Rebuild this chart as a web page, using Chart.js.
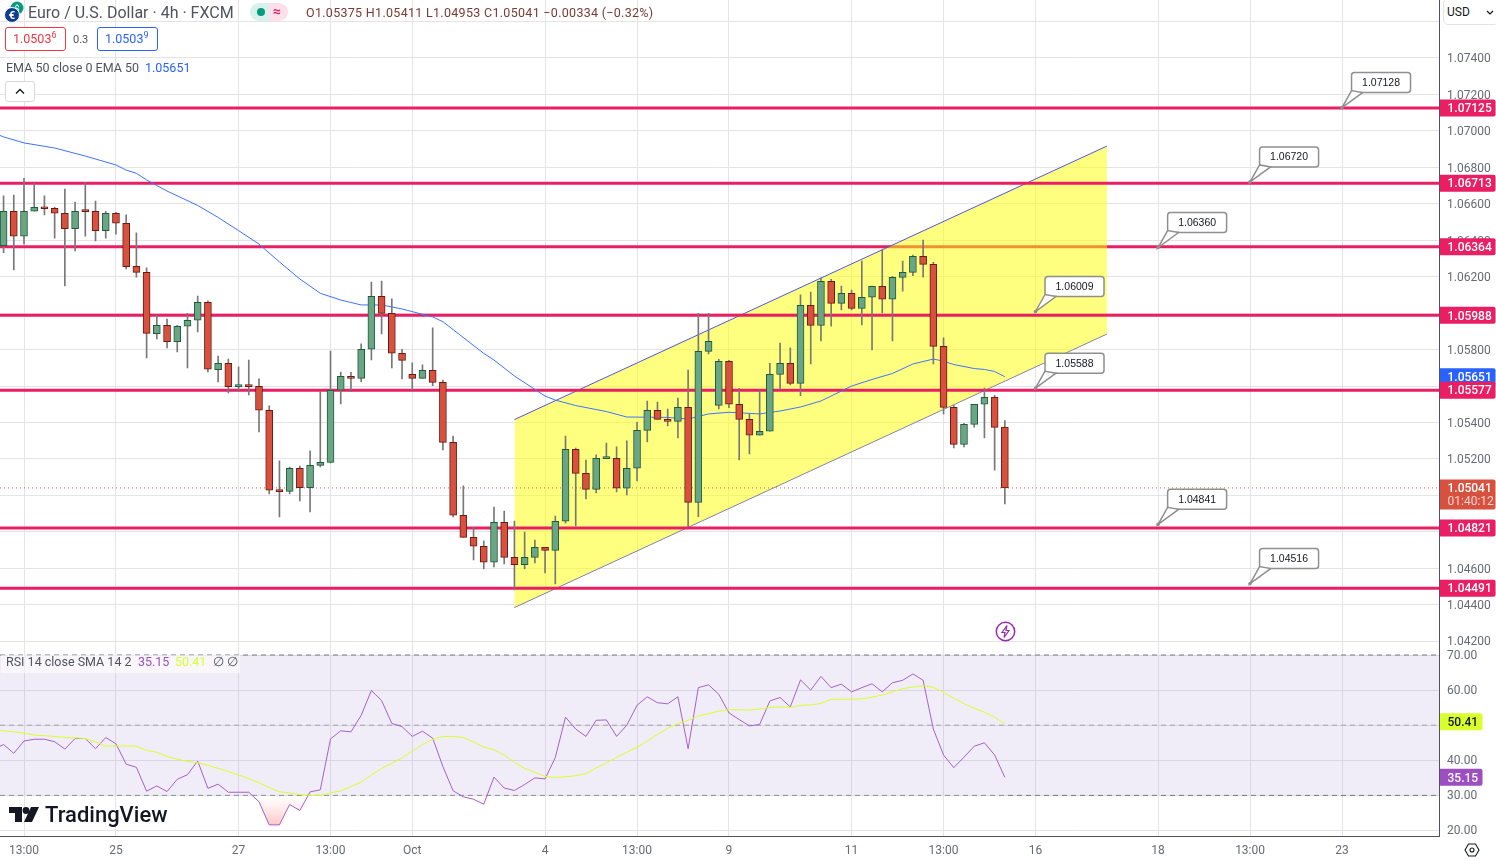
<!DOCTYPE html>
<html>
<head>
<meta charset="utf-8">
<title>EUR/USD 4h</title>
<script src="https://cdn.jsdelivr.net/npm/chart.js@4"></script>
<style>
  html, body { margin: 0; padding: 0; background: #fff; width: 1496px; height: 860px; overflow: hidden; }
  body { font-family: Roboto, sans-serif; position: relative; }
  canvas { position: absolute; left: 0; display: block; }
  #priceCanvas { top: 0; }
  #rsiCanvas { top: 645px; }
  .t { position: absolute; white-space: nowrap; line-height: 1; }
  .box { position: absolute; box-sizing: border-box; background: #fff; border-radius: 3px; }
</style>
</head>
<body>
<canvas id="priceCanvas" width="1496" height="645"></canvas>
<canvas id="rsiCanvas" width="1496" height="215"></canvas>

<!-- symbol header -->
<svg style="position:absolute;left:4px;top:1px" width="20" height="22" viewBox="0 0 20 22">
  <circle cx="13" cy="7" r="6.5" fill="#089981"/><text x="13" y="10.5" font-size="9" fill="#fff" text-anchor="middle" font-family="Roboto">$</text>
  <circle cx="8" cy="14" r="7.5" fill="#0f3d91" stroke="#fff"/><text x="8" y="18" font-size="11" font-weight="bold" fill="#fff" text-anchor="middle" font-family="Roboto">€</text>
</svg>
<span class="t" style="left:28px;top:5px;font-size:16px;color:#50535e">Euro / U.S. Dollar · 4h · FXCM</span>
<div style="position:absolute;left:250px;top:3px;width:19px;height:18px;background:#d9f1ec;border-radius:9px 0 0 9px"></div>
<div style="position:absolute;left:269px;top:3px;width:19px;height:18px;background:#fcdfe9;border-radius:0 9px 9px 0"></div>
<div style="position:absolute;left:257px;top:8px;width:8px;height:8px;background:#089981;border-radius:50%"></div>
<span class="t" style="left:273px;top:4px;font-size:14px;color:#e91e63;font-weight:bold">≈</span>
<span class="t" style="left:306px;top:7px;font-size:12.5px;color:#7b3a33;letter-spacing:.3px">O1.05375 H1.05411 L1.04953 C1.05041 −0.00334 (−0.32%)</span>

<!-- bid / ask -->
<div class="box" style="left:5px;top:27px;width:61px;height:24px;border:1px solid #f23645"></div>
<span class="t" style="left:13px;top:33px;font-size:12.5px;color:#f23645">1.0503<sup style="font-size:9px;line-height:0">6</sup></span>
<span class="t" style="left:73px;top:34px;font-size:11px;color:#50535e">0.3</span>
<div class="box" style="left:97px;top:27px;width:61px;height:24px;border:1px solid #2962ff"></div>
<span class="t" style="left:105px;top:33px;font-size:12.5px;color:#2962ff">1.0503<sup style="font-size:9px;line-height:0">9</sup></span>

<!-- EMA legend -->
<span class="t" style="left:6px;top:62px;font-size:12.5px;color:#50535e">EMA 50 close 0 EMA 50</span>
<span class="t" style="left:145px;top:62px;font-size:12.5px;color:#2962ff">1.05651</span>
<div class="box" style="left:5px;top:81px;width:30px;height:21px;border:1px solid #d6d8de"></div>
<svg style="position:absolute;left:15px;top:88px" width="10" height="7" viewBox="0 0 10 7"><path d="M1 5.5 L5 1.5 L9 5.5" fill="none" stroke="#131722" stroke-width="1.3"/></svg>

<!-- currency selector -->
<div class="box" style="left:1443px;top:-2px;width:56px;height:27px;border:1px solid #e0e3eb;border-radius:5px"></div>
<span class="t" style="left:1447px;top:6px;font-size:12px;color:#131722">USD</span>
<svg style="position:absolute;left:1486px;top:10px" width="8" height="6" viewBox="0 0 8 6"><path d="M1 1 L4 4 L7 1" fill="none" stroke="#131722" stroke-width="1.2"/></svg>

<!-- bolt marker -->
<svg style="position:absolute;left:995px;top:621px" width="21" height="21" viewBox="0 0 21 21">
  <circle cx="10.5" cy="10.5" r="9.2" fill="#fff" stroke="#9c27b0" stroke-width="1.5"/>
  <path d="M12 4.5 L7 11.5 H10 L9 16.5 L14 9.5 H11 Z" fill="none" stroke="#9c27b0" stroke-width="1.2"/>
</svg>

<!-- RSI legend -->
<div style="position:absolute;left:1px;top:655px;width:239px;height:18px;background:rgba(255,255,255,.55)"></div>
<span class="t" style="left:6px;top:655.5px;font-size:12.5px;color:#50535e">RSI 14 close SMA 14 2</span>
<span class="t" style="left:138px;top:655.5px;font-size:12.5px;color:#9c4fc0">35.15</span>
<span class="t" style="left:175px;top:655.5px;font-size:12.5px;color:#d9ff2c">50.41</span>
<span class="t" style="left:213px;top:655.5px;font-size:12.5px;color:#50535e">∅</span>
<span class="t" style="left:227px;top:655.5px;font-size:12.5px;color:#50535e">∅</span>

<!-- logo -->
<svg style="position:absolute;left:9px;top:806px" width="30" height="18" viewBox="0 0 30 18">
  <path d="M0 1 H13 V16 H6 V7 H0 Z" fill="#131722"/><circle cx="17" cy="4.5" r="3.4" fill="#131722"/><path d="M22 1 H30 L23 16 H15 Z" fill="#131722"/>
</svg>
<span class="t" style="left:45px;top:804px;font-size:22px;font-weight:500;color:#131722">TradingView</span>

<!-- settings -->
<svg style="position:absolute;left:1464px;top:842px" width="16" height="16" viewBox="0 0 16 16">
  <path d="M4.5 2 H11.5 L15 8 L11.5 14 H4.5 L1 8 Z" fill="none" stroke="#131722" stroke-width="1.1"/><circle cx="8" cy="8" r="2" fill="none" stroke="#131722" stroke-width="1.1"/>
</svg>

<script>
// candles, one per 4h bar
const open = [
  1.06370,1.06559,1.06422,1.06559,1.06581,1.06575,1.06548,1.06464,1.06559,1.06559,
  1.06453,1.06548,1.06493,1.06257,1.06224,1.05887,1.05933,1.05844,1.05928,1.05961,
  1.06059,1.05690,1.05725,1.05597,1.05604,1.05599,1.05467,1.05028,1.05022,1.05149,
  1.05043,1.05165,1.05181,1.05577,1.05653,1.05642,1.05802,1.06092,1.05999,1.05780,
  1.05664,1.05642,1.05686,1.05620,1.05291,1.04891,1.04770,1.04721,1.04633,1.04852,
  1.04660,1.04620,1.04660,1.04715,1.04698,1.04858,1.05253,1.05121,1.05033,1.05202,
  1.05203,1.05039,1.05149,1.05357,1.05467,1.05417,1.05406,1.05483,1.04962,1.05790,
  1.05494,1.05736,1.05500,1.05417,1.05330,1.05352,1.05664,1.05725,1.05615,1.06043,
  1.05933,1.06175,1.06054,1.06109,1.06026,1.06087,1.06147,1.06076,1.06196,1.06224,
  1.06312,1.06268,1.05818,1.05483,1.05280,1.05390,1.05500,1.05538,1.05375];
const high = [
  1.06643,1.06648,1.06740,1.06712,1.06643,1.06581,1.06681,1.06610,1.06718,1.06615,
  1.06559,1.06553,1.06539,1.06440,1.06248,1.05988,1.05968,1.05933,1.05999,1.06094,
  1.06067,1.05765,1.05748,1.05705,1.05743,1.05639,1.05491,1.05189,1.05156,1.05161,
  1.05244,1.05571,1.05792,1.05677,1.05675,1.05831,1.06171,1.06176,1.06078,1.05802,
  1.05727,1.05716,1.05919,1.05633,1.05326,1.05052,1.04825,1.04750,1.04936,1.04914,
  1.04859,1.04799,1.04755,1.04715,1.04887,1.05326,1.05260,1.05194,1.05222,1.05287,
  1.05266,1.05299,1.05401,1.05518,1.05512,1.05474,1.05534,1.05688,1.05999,1.05999,
  1.05747,1.05741,1.05587,1.05445,1.05578,1.05725,1.05836,1.05809,1.06100,1.06116,
  1.06193,1.06185,1.06149,1.06127,1.06286,1.06149,1.06350,1.06202,1.06286,1.06319,
  1.06401,1.06279,1.05864,1.05494,1.05395,1.05500,1.05589,1.05549,1.05411];
const low = [
  1.06332,1.06237,1.06379,1.06559,1.06539,1.06412,1.06149,1.06341,1.06423,1.06396,
  1.06412,1.06434,1.06242,1.06198,1.05754,1.05858,1.05809,1.05787,1.05699,1.05897,
  1.05677,1.05622,1.05562,1.05571,1.05551,1.05348,1.05008,1.04882,1.05008,1.04969,
  1.04909,1.05156,1.05178,1.05502,1.05569,1.05624,1.05743,1.05886,1.05699,1.05639,
  1.05578,1.05642,1.05602,1.05249,1.04882,1.04770,1.04646,1.04596,1.04607,1.04624,
  1.04481,1.04596,1.04629,1.04574,1.04514,1.04848,1.04832,1.04980,1.05013,1.05202,
  1.05019,1.05002,1.05079,1.05293,1.05417,1.05381,1.05315,1.04828,1.04883,1.05776,
  1.05474,1.05481,1.05194,1.05227,1.05330,1.05352,1.05582,1.05606,1.05547,1.05721,
  1.05847,1.05929,1.06017,1.06017,1.05935,1.05798,1.06001,1.05847,1.06121,1.06206,
  1.06198,1.05721,1.05447,1.05260,1.05266,1.05375,1.05315,1.05139,1.04953];
const close = [
  1.06559,1.06422,1.06559,1.06581,1.06573,1.06548,1.06464,1.06559,1.06557,1.06453,
  1.06548,1.06493,1.06255,1.06224,1.05889,1.05933,1.05844,1.05928,1.05961,1.06059,
  1.05692,1.05725,1.05597,1.05604,1.05597,1.05467,1.05028,1.05021,1.05149,1.05043,
  1.05165,1.05181,1.05577,1.05653,1.05642,1.05802,1.06092,1.05999,1.05780,1.05741,
  1.05642,1.05686,1.05620,1.05291,1.04891,1.04770,1.04721,1.04633,1.04852,1.04660,
  1.04620,1.04660,1.04715,1.04698,1.04858,1.05253,1.05121,1.05033,1.05203,1.05205,
  1.05039,1.05149,1.05357,1.05467,1.05417,1.05406,1.05483,1.04962,1.05790,1.05845,
  1.05736,1.05500,1.05417,1.05330,1.05352,1.05664,1.05725,1.05615,1.06043,1.05933,
  1.06175,1.06054,1.06109,1.06026,1.06087,1.06147,1.06076,1.06196,1.06224,1.06312,
  1.06268,1.05818,1.05483,1.05280,1.05390,1.05500,1.05538,1.05373,1.05041];

// EMA 50, read at these bars (the -1 bar runs off the left edge)
const emaBars = [-1,0,2,5,8,11,12,13,14,16,19,21,23,25,27,29,31,33,35,37,39,42,43,47,48,50,53,54,56,59,61,65,67,69,71,74,76,78,80,83,85,87,89,91,92,93,95,96,97,98];
const emaValues = [
  1.06990,1.06967,1.06934,1.06906,1.06862,1.06813,1.06785,1.06767,1.06731,1.06670,1.06591,
  1.06525,1.06453,1.06379,1.06281,1.06187,1.06109,1.06072,1.06045,1.06045,1.06023,
  1.05979,1.05953,1.05779,1.05743,1.05655,1.05545,1.05523,1.05493,1.05460,1.05430,
  1.05428,1.05419,1.05447,1.05456,1.05447,1.05463,1.05485,1.05518,1.05600,1.05636,
  1.05669,1.05721,1.05748,1.05737,1.05718,1.05696,1.05691,1.05680,1.05651];

// RSI and its SMA, first entry is the bar just off the left edge
const rsiValues = [
  43.1,44.5,42.0,45.5,46.0,46.0,45.3,43.2,46.2,46.2,43.3,
  46.5,44.7,38.9,38.0,31.2,32.7,31.1,34.6,35.9,39.8,
  32.0,33.2,30.9,30.9,30.9,28.2,21.6,21.6,27.4,25.7,
  31.0,31.6,46.1,48.4,48.1,52.8,59.9,57.0,50.5,49.6,
  46.8,48.3,46.3,38.2,31.3,29.6,28.9,27.5,35.2,32.1,
  31.4,33.1,35.0,34.7,40.8,52.3,48.9,46.8,51.4,51.5,
  46.8,50.0,55.7,58.1,56.4,56.1,58.1,43.3,60.7,61.5,
  58.8,53.5,51.6,49.8,50.2,56.9,57.9,55.2,62.9,60.0,
  63.9,60.7,61.7,59.5,60.7,61.8,59.5,62.1,62.8,64.6,
  62.8,48.9,41.5,37.9,40.9,44.0,45.0,41.5,35.15];
const smaValues = [
  48.6,48.4,48.1,47.8,47.2,47.0,46.8,46.5,46.4,46.2,45.3,
  44.0,44.1,44.1,44.0,42.8,42.3,41.1,40.3,39.7,39.3,
  38.6,37.7,36.8,35.8,34.8,33.6,32.3,31.0,30.7,30.2,
  30.0,30.0,30.7,31.3,32.5,33.8,35.8,37.7,39.1,40.7,
  42.6,44.5,46.0,46.8,46.8,46.5,45.2,43.8,43.0,41.5,
  39.4,37.7,36.6,35.4,35.1,35.3,35.6,36.2,37.8,39.3,
  40.8,42.3,43.7,45.5,47.4,49.1,50.5,51.4,52.6,53.3,
  54.0,54.4,54.4,54.3,54.6,55.1,55.2,55.1,55.6,55.8,
  56.2,57.4,57.4,57.4,57.5,58.0,58.6,59.5,60.4,60.9,
  61.2,60.8,59.4,57.7,56.1,54.8,53.7,52.3,50.41];

// horizontal levels
const levels = [1.07125, 1.06713, 1.05988, 1.05577, 1.04821, 1.04491];
const levelUnderChannel = 1.06364;
const lastPrice = 1.05041;
const lastEma = 1.05651;
const countdown = '01:40:12';

// rising channel, start and end bar
const channelBars = [50, 108];
const channelUpper = [1.05416, 1.06917];
const channelLower = [1.04385, 1.05886];

// callouts
const calloutBars = [131, 122, 113, 101, 101, 113, 122];
const calloutPrices = [1.07128, 1.06720, 1.06360, 1.06009, 1.05588, 1.04841, 1.04516];

// axes
const priceTicks = [1.042,1.044,1.046,1.048,1.05,1.052,1.054,1.056,1.058,1.06,1.062,1.064,1.066,1.068,1.07,1.072,1.074,1.076];
const rsiTicks = [20, 30, 40, 50, 60, 70];
const rsiDashed = [70, 50, 30];
const timeBars = [2, 11, 23, 32, 40, 53, 62, 71, 83, 92, 101, 113, 122, 131];
const timeLabels = ['13:00','25','27','13:00','Oct','4','13:00','9','11','13:00','16','18','13:00','23'];

const X_MIN = -0.349, X_MAX = 140.54;
const PINK = '#e91e63', GRID = '#e4e4e6', AXIS = '#50535e', TICK = '#666a75';
const UP = '#6aa584', UP_EDGE = '#1f5b3d', DOWN = '#d6523f', DOWN_EDGE = '#6b1a12', WICK = '#787878';
const FONT = 'Roboto, sans-serif';

const bars = open.map((_, i) => i);
const rsiBars = [-1, ...bars];
const flat = (value, order, color, width, dash) => ({
  type: 'line', order, data: [{x: X_MIN, y: value}, {x: X_MAX, y: value}],
  borderColor: color, borderWidth: width, borderDash: dash || [], pointRadius: 0, fill: false
});

// chart area has to fill the canvas, labels may hang over
function noPadding(s) {
  s.paddingLeft = s.paddingRight = s.paddingTop = s.paddingBottom = 0;
}

// right axis tag
function drawTag(chart, y, width, bg, fg, text, sub) {
  const ctx = chart.ctx, left = chart.chartArea.right + 0.5;
  const h = sub ? 30 : 17;
  const top = sub ? y - 8.5 : y - h / 2;
  ctx.fillStyle = bg;
  ctx.beginPath();
  ctx.roundRect(left, top, width, h, [0, 2, 2, 0]);
  ctx.fill();
  ctx.fillStyle = fg;
  ctx.font = '500 12px ' + FONT;
  ctx.textAlign = 'left';
  ctx.textBaseline = 'middle';
  ctx.fillText(text, left + 7.5, top + 9.7);
  if (sub) {
    ctx.font = '12px ' + FONT;
    ctx.fillStyle = 'rgba(255,255,255,.75)';
    ctx.fillText(sub, left + 7.5, top + 23);
  }
}

const priceAnnotations = {
  id: 'priceAnnotations',
  afterDraw(chart) {
    const ctx = chart.ctx, xs = chart.scales.x, ys = chart.scales.y;
    // callout boxes
    ctx.save();
    calloutPrices.forEach((price, i) => {
      const ax = xs.getPixelForValue(calloutBars[i]), ay = ys.getPixelForValue(price);
      const left = ax + 9.5, top = ay - 35, w = 59, h = 20;
      ctx.beginPath();
      ctx.roundRect(left, top, w, h, 3);
      ctx.fillStyle = '#fff';
      ctx.fill();
      ctx.strokeStyle = '#8f8f8f';
      ctx.lineWidth = 1.5;
      ctx.stroke();
      ctx.beginPath();
      ctx.moveTo(left, top + h - 2);
      ctx.lineTo(ax, ay);
      ctx.lineTo(left + 11, top + h);
      ctx.closePath();
      ctx.fillStyle = '#fff';
      ctx.fill();
      ctx.stroke();
      ctx.beginPath();
      ctx.arc(ax, ay, 1.8, 0, Math.PI * 2);
      ctx.fillStyle = '#8f8f8f';
      ctx.fill();
      ctx.fillStyle = '#131722';
      ctx.font = '10.5px "Liberation Sans", sans-serif';
      ctx.textAlign = 'center';
      ctx.textBaseline = 'middle';
      ctx.fillText(price.toFixed(5), left + w / 2, top + h / 2 + 0.5);
    });
    // axis tags
    drawTag(chart, ys.getPixelForValue(lastEma), 55.5, '#2962ff', '#fff', lastEma.toFixed(5));
    [...levels, levelUnderChannel].forEach(v => drawTag(chart, ys.getPixelForValue(v), 55.5, PINK, '#fff', v.toFixed(5)));
    drawTag(chart, ys.getPixelForValue(lastPrice), 55.5, DOWN, '#fff', lastPrice.toFixed(5), countdown);
    ctx.restore();
  }
};

const rsiAnnotations = {
  id: 'rsiAnnotations',
  afterDraw(chart) {
    const ys = chart.scales.y;
    const lastRsi = rsiValues[rsiValues.length - 1], lastSma = smaValues[smaValues.length - 1];
    chart.ctx.save();
    drawTag(chart, ys.getPixelForValue(lastSma) - 2, 42.5, '#d9ff2c', '#131722', lastSma.toFixed(2));
    drawTag(chart, ys.getPixelForValue(lastRsi), 42.5, '#9c4fc0', '#fff', lastRsi.toFixed(2));
    chart.ctx.restore();
  }
};

function baseXAxis() {
  return {
    type: 'linear', min: X_MIN, max: X_MAX, offset: false,
    afterBuildTicks: s => { s.ticks = timeBars.map(v => ({value: v})); },
    grid: {color: GRID, drawTicks: false, offset: false}
  };
}

// price pane
new Chart(document.getElementById('priceCanvas').getContext('2d'), {
  data: {
    datasets: [
      {
        type: 'bar', order: 1, grouped: false, barThickness: 7, borderWidth: 1, borderSkipped: false, minBarLength: 2,
        data: bars.map(i => ({x: i, y: [open[i], close[i]]})),
        backgroundColor: bars.map(i => close[i] >= open[i] ? UP : DOWN),
        borderColor: bars.map(i => close[i] >= open[i] ? UP_EDGE : DOWN_EDGE)
      },
      {
        type: 'bar', order: 2, grouped: false, barThickness: 1,
        data: bars.map(i => ({x: i, y: [low[i], high[i]]})),
        backgroundColor: WICK
      },
      {
        type: 'line', order: 3, data: emaBars.map((b, i) => ({x: b, y: emaValues[i]})),
        borderColor: '#3f73ff', borderWidth: 1, pointRadius: 0, fill: false, tension: 0
      },
      flat(lastPrice, 3.5, '#ef5350', 1, [1, 3]),
      ...levels.map(v => flat(v, 4, PINK, 3)),
      {
        type: 'line', order: 5, data: channelBars.map((b, i) => ({x: b, y: channelUpper[i]})),
        borderColor: '#4d55dc', borderWidth: 1, pointRadius: 0, tension: 0,
        fill: '+1', backgroundColor: 'rgba(255,255,0,.5)'
      },
      {
        type: 'line', order: 5, data: channelBars.map((b, i) => ({x: b, y: channelLower[i]})),
        borderColor: '#4d55dc', borderWidth: 1, pointRadius: 0, tension: 0, fill: false
      },
      flat(levelUnderChannel, 6, PINK, 3)
    ]
  },
  options: {
    responsive: false, animation: false, devicePixelRatio: 1, events: [],
    layout: {padding: 0},
    plugins: {legend: {display: false}, tooltip: {enabled: false}},
    scales: {
      x: {
        ...baseXAxis(),
        ticks: {display: false},
        border: {color: GRID},
        afterFit: s => { s.height = 0; noPadding(s); }
      },
      y: {
        position: 'right', min: 1.041791, max: 1.077182,
        afterBuildTicks: s => { s.ticks = priceTicks.map(v => ({value: v})); },
        afterFit: s => { s.width = 56.5; noPadding(s); },
        grid: {color: GRID, drawTicks: false},
        border: {color: AXIS},
        ticks: {
          padding: 7.5, labelOffset: 1.3, color: TICK, font: {family: FONT, size: 12}, align: 'center', autoSkip: false,
          callback: v => v > 1.075 ? '' : v.toFixed(5)
        }
      }
    }
  },
  plugins: [priceAnnotations]
});

// RSI pane
const rsiCtx = document.getElementById('rsiCanvas').getContext('2d');
const oversold = rsiCtx.createLinearGradient(0, 151, 0, 181);
oversold.addColorStop(0, 'rgba(255,255,255,.6)');
oversold.addColorStop(1, 'rgba(255,190,190,.9)');

new Chart(rsiCtx, {
  data: {
    datasets: [
      {
        type: 'line', order: 1, data: rsiBars.map((b, i) => ({x: b, y: smaValues[i]})),
        borderColor: '#d9ff2c', borderWidth: 1, pointRadius: 0, tension: 0, fill: false
      },
      {
        type: 'line', order: 2, data: rsiBars.map((b, i) => ({x: b, y: rsiValues[i]})),
        borderColor: '#a560c9', borderWidth: 1, pointRadius: 0, tension: 0,
        fill: {target: {value: 30}, above: 'rgba(0,0,0,0)', below: oversold}
      },
      ...rsiDashed.map(v => flat(v, 3, v === 50 ? '#a3a3ad' : '#787b86', 1, [5, 4])),
      {
        type: 'line', order: 4, data: [{x: X_MIN, y: 70}, {x: X_MAX, y: 70}],
        borderWidth: 0, pointRadius: 0, fill: {target: {value: 30}}, backgroundColor: 'rgba(126,87,194,.11)'
      }
    ]
  },
  options: {
    responsive: false, animation: false, devicePixelRatio: 1, events: [],
    layout: {padding: 0},
    plugins: {legend: {display: false}, tooltip: {enabled: false}},
    scales: {
      x: {
        ...baseXAxis(),
        border: {color: AXIS},
        afterFit: s => { s.height = 23.5; noPadding(s); },
        ticks: {
          padding: 7, color: TICK, font: {family: FONT, size: 12}, maxRotation: 0, autoSkip: false,
          callback: v => timeLabels[timeBars.indexOf(v)]
        }
      },
      y: {
        position: 'right', min: 18.29, max: 72.85,
        afterBuildTicks: s => { s.ticks = rsiTicks.map(v => ({value: v})); },
        afterFit: s => { s.width = 56.5; noPadding(s); },
        grid: {color: GRID, drawTicks: false},
        border: {color: AXIS},
        ticks: {padding: 7.5, labelOffset: 1, color: TICK, font: {family: FONT, size: 12}, autoSkip: false, callback: v => v.toFixed(2)}
      }
    }
  },
  plugins: [rsiAnnotations]
});
</script>
</body>
</html>
